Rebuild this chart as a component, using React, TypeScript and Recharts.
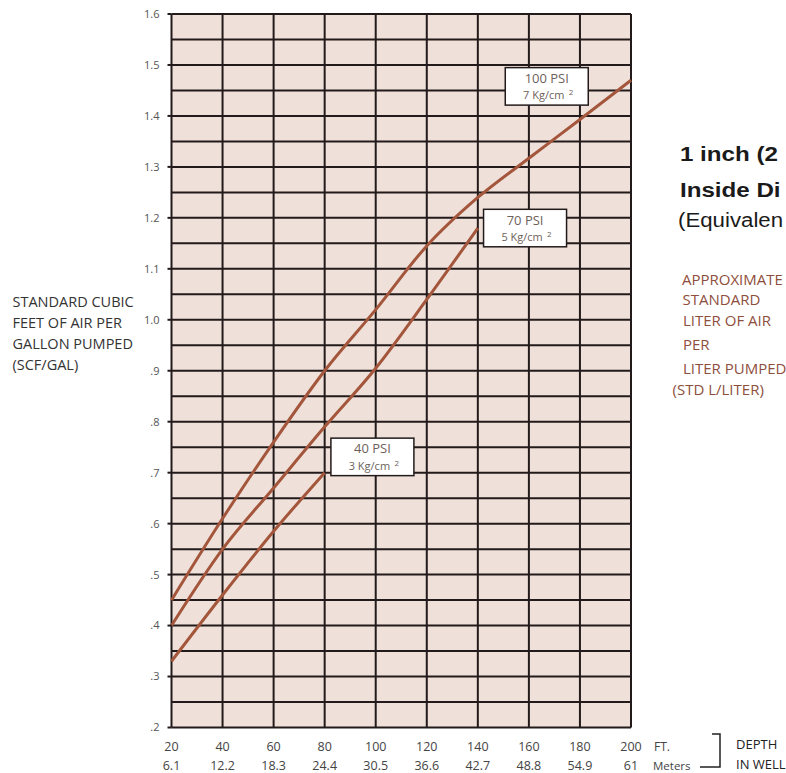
import React from 'react';
import { ComposedChart, Line, XAxis, YAxis, CartesianGrid, ReferenceDot } from 'recharts';

const depthFt = [20, 40, 60, 80, 100, 120, 140, 160, 180, 200];
const depthMeters = ['6.1', '12.2', '18.3', '24.4', '30.5', '36.6', '42.7', '48.8', '54.9', '61'];
const psi100 = [0.45, 0.61, 0.76, 0.9, 1.02, 1.145, 1.24, 1.317, 1.393, 1.47];
const psi70 = [0.4, 0.55, 0.67, 0.79, 0.905, 1.04, 1.18, null, null, null];
const psi40 = [0.33, 0.46, 0.585, 0.7, null, null, null, null, null, null];

const scfTicks = [0.2, 0.3, 0.4, 0.5, 0.6, 0.7, 0.8, 0.9, 1.0, 1.1, 1.2, 1.3, 1.4, 1.5, 1.6];
const scfLabels = ['.2', '.3', '.4', '.5', '.6', '.7', '.8', '.9', '1.0', '1.1', '1.2', '1.3', '1.4', '1.5', '1.6'];
const stdLiterLabels = ['1.5', '2.2', '3.0', '3.7', '4.5', '5.2', '6.0', '6.7', '7.5', '8.2', '9.0', '9.7', '10.5', '11.2', '12'];
const gridRows = [0.2, 0.25, 0.3, 0.35, 0.4, 0.45, 0.5, 0.55, 0.6, 0.65, 0.7, 0.75, 0.8, 0.85, 0.9, 0.95, 1.0, 1.05, 1.1, 1.15, 1.2, 1.25, 1.3, 1.35, 1.4, 1.45, 1.5, 1.55, 1.6];

const pressureLabels = [
  { psi: '100 PSI', kg: '7 Kg/cm', ft: 167, scf: 1.458 },
  { psi: '70 PSI', kg: '5 Kg/cm', ft: 158.5, scf: 1.18 },
  { psi: '40 PSI', kg: '3 Kg/cm', ft: 98.7, scf: 0.731 },
];

const data = depthFt.map((ft, i) => ({ ft, p100: psi100[i], p70: psi70[i], p40: psi40[i] }));

const FONT = '"Open Sans", sans-serif';
const GRID = '#231b1b';
const CURVE = '#a3563b';
const BROWN = '#8e4e3c';

const idx = (v: number) => scfTicks.findIndex((t) => Math.abs(t - v) < 1e-6);

const LeftTick = (props: any) => {
  const { x, y, payload } = props;
  return (
    <text x={x} y={y} dy="0.355em" textAnchor="end" fontSize={11} fill="#555" fontFamily={FONT}>
      {scfLabels[idx(payload.value)]}
    </text>
  );
};

const RightTick = (props: any) => {
  const { x, y, payload } = props;
  return (
    <text x={x} y={y} dy="0.355em" textAnchor="start" fontSize={11} fill="#555" fontFamily={FONT}>
      {stdLiterLabels[idx(payload.value)]}
    </text>
  );
};

const BottomTick = (props: any) => {
  const { x, y, payload } = props;
  const i = depthFt.indexOf(payload.value);
  return (
    <g>
      <text x={x} y={y + 23} textAnchor="middle" fontSize={12.5} fill="#444" fontFamily={FONT}>
        {depthFt[i]}
      </text>
      <text x={x} y={y + 42.5} textAnchor="middle" fontSize={12.5} fill="#444" fontFamily={FONT}>
        {depthMeters[i]}
      </text>
    </g>
  );
};

const makeBox = (psi: string, kg: string) => (props: any) => {
  const { cx, cy } = props;
  const w = 83;
  const h = 37.5;
  return (
    <g>
      <rect x={cx - w / 2} y={cy - h / 2} width={w} height={h} fill="#ffffff" stroke={GRID} strokeWidth={1.5} />
      <text x={cx} y={cy - 3.5} textAnchor="middle" fontSize={13} fill="#6e5f5a" fontFamily={FONT}>
        {psi}
      </text>
      <text x={cx - 3} y={cy + 13} textAnchor="middle" fontSize={11} fill="#6e5f5a" fontFamily={FONT}>
        {kg}
      </text>
      <text x={cx + 22} y={cy + 9} textAnchor="start" fontSize={8} fill="#6e5f5a" fontFamily={FONT}>
        2
      </text>
    </g>
  );
};

export default function App() {
  return (
    <div style={{ position: 'absolute', left: 0, top: 0, width: 786, height: 773, background: '#ffffff' }}>
      <ComposedChart width={786} height={773} data={data} margin={{ top: 14, right: 0, bottom: 0, left: 0 }}>
        <CartesianGrid
          horizontalValues={gridRows}
          verticalValues={depthFt}
          stroke={GRID}
          strokeWidth={2}
          fill="#efe1d9"
          fillOpacity={1}
        />
        <XAxis
          dataKey="ft"
          type="number"
          domain={[20, 200]}
          ticks={depthFt}
          height={45.5}
          axisLine={false}
          tickLine={false}
          tickSize={0}
          tickMargin={0}
          tick={<BottomTick />}
          interval={0}
        />
        <YAxis
          type="number"
          domain={[0.2, 1.6]}
          ticks={scfTicks}
          width={171.5}
          axisLine={false}
          tickLine={{ stroke: GRID, strokeWidth: 2 }}
          tickSize={4}
          tickMargin={8}
          tick={<LeftTick />}
          interval={0}
        />
        <YAxis
          yAxisId="right"
          orientation="right"
          type="number"
          domain={[0.2, 1.6]}
          ticks={scfTicks}
          width={155}
          axisLine={false}
          tickLine={false}
          tickSize={0}
          tickMargin={12}
          tick={<RightTick />}
          interval={0}
        />
        <Line type="monotone" dataKey="p100" stroke={CURVE} strokeWidth={3} dot={false} isAnimationActive={false} />
        <Line type="monotone" dataKey="p70" stroke={CURVE} strokeWidth={3} dot={false} isAnimationActive={false} />
        <Line type="monotone" dataKey="p40" stroke={CURVE} strokeWidth={3} dot={false} isAnimationActive={false} />
        {pressureLabels.map((p) => (
          <ReferenceDot key={p.psi} x={p.ft} y={p.scf} r={0} shape={makeBox(p.psi, p.kg)} />
        ))}
      </ComposedChart>
      <svg
        width={786}
        height={773}
        style={{ position: 'absolute', left: 0, top: 0, pointerEvents: 'none' }}
      >
        <g fontFamily={FONT} fontSize={14.5} fill="#333">
          <text x={12.5} y={306.5}>STANDARD CUBIC</text>
          <text x={12.5} y={327.7}>FEET OF AIR PER</text>
          <text x={12.5} y={348.9}>GALLON PUMPED</text>
          <text x={12.5} y={370}>(SCF/GAL)</text>
        </g>
        <g fontFamily='"Liberation Sans", Arial, sans-serif' fontSize={21} fill="#1a1a1a">
          <text transform="translate(680,161) scale(1.15,1)" fontWeight="bold">1 inch (2</text>
          <text transform="translate(680,196.5) scale(1.15,1)" fontWeight="bold">Inside Di</text>
          <text transform="translate(678,227) scale(1.06,1)">(Equivalen</text>
        </g>
        <g fontFamily={FONT} fontSize={15} fill={BROWN}>
          <text x={682} y={284.5}>APPROXIMATE</text>
          <text x={682.5} y={304.5}>STANDARD</text>
          <text x={683} y={325.5}>LITER OF AIR</text>
          <text x={683} y={349.5}>PER</text>
          <text x={683} y={373.5}>LITER PUMPED</text>
          <text x={672.5} y={395}>(STD L/LITER)</text>
        </g>
        <g fontFamily={FONT} fill="#444">
          <text x={654} y={750.5} fontSize={12}>FT.</text>
          <text x={653} y={770} fontSize={11.5}>Meters</text>
        </g>
        <path d="M 700 767 H 720 V 734 H 712" fill="none" stroke="#222" strokeWidth={1.5} />
        <g fontFamily={FONT} fontSize={13} fill="#222">
          <text x={736} y={748.5}>DEPTH</text>
          <text x={736} y={769}>IN WELL</text>
        </g>
      </svg>
    </div>
  );
}
